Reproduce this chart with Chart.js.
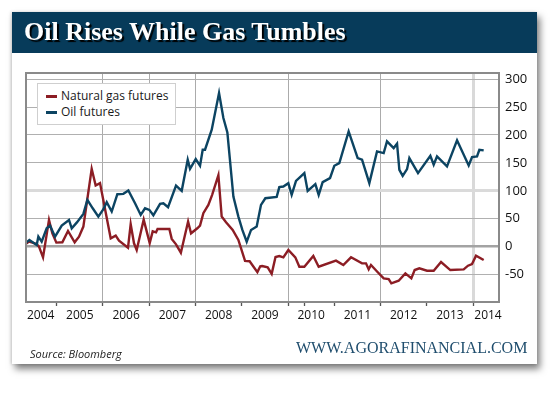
<!DOCTYPE html>
<html>
<head>
<meta charset="utf-8">
<script src="https://cdn.jsdelivr.net/npm/chart.js@4.4.1/dist/chart.umd.min.js"></script>
<style>
  html, body { margin: 0; padding: 0; background: #fff; }
  body { width: 554px; height: 395px; position: relative; overflow: hidden; }
  .card { position: absolute; left: 12px; top: 12px; width: 525px; height: 352px; background: #fff;
          box-shadow: 3px 5px 7px rgba(0,0,0,0.5), -1px 0 3px rgba(0,0,0,0.15); }
  .titlebar { position: absolute; left: 12px; top: 12px; width: 525px; height: 41px; background: #073b5a; }
  .title { position: absolute; left: 24px; top: 17px; margin: 0; white-space: nowrap;
           font: bold 26px/30px "Liberation Serif", serif; color: #fff; text-shadow: 2px 2px 1px #000; }
  #chart { position: absolute; left: 0; top: 0; }
  .legend { position: absolute; left: 37px; top: 83px; width: 137px; height: 40px;
            border: 1.5px solid #cfcfcf; background: #fff; }
  .legend .row { position: absolute; left: 0; height: 16px; width: 100%;
                 font: 12px/16px "Open Sans", sans-serif; color: #1a1a1a; white-space: nowrap; }
  .legend .sw { position: absolute; left: 8px; top: 7px; width: 11px; height: 3px; }
  .legend .txt { position: absolute; left: 23px; top: 0; }
  .source { position: absolute; left: 30px; top: 346px; font: italic 11px/15px "Open Sans", sans-serif; color: #222; }
  .site { position: absolute; left: 296px; top: 339px; font: 16px/18px "Liberation Serif", serif; color: #1f4d6d; white-space: nowrap; }
</style>
</head>
<body>
<div class="card"></div>
<div class="titlebar"></div>
<canvas id="chart" width="554" height="395"></canvas>
<h1 class="title">Oil Rises While Gas Tumbles</h1>
<div class="legend" id="legend"></div>
<div class="source">Source: Bloomberg</div>
<div class="site">WWW.AGORAFINANCIAL.COM</div>
<script>
// series names and colours
const seriesNames = ['Natural gas futures', 'Oil futures'];
const seriesColors = ['#8c1d24', '#0c4462'];

// natural gas futures (% change), x in decimal years
const gasYears = [2004.329, 2004.401, 2004.567, 2004.617, 2004.704, 2004.833, 2004.906, 2004.992, 2005.122, 2005.244,
  2005.388, 2005.482, 2005.576, 2005.756, 2005.842, 2005.936, 2006.167, 2006.275, 2006.347, 2006.541,
  2006.599, 2006.671, 2006.729, 2006.880, 2007.010, 2007.075, 2007.147, 2007.180, 2007.435, 2007.486,
  2007.579, 2007.684, 2007.840, 2007.904, 2008.040, 2008.098, 2008.170, 2008.278, 2008.360, 2008.495,
  2008.566, 2008.660, 2008.804, 2008.927, 2009.071, 2009.170, 2009.338, 2009.400, 2009.440, 2009.560,
  2009.647, 2009.730, 2009.812, 2009.899, 2010.007, 2010.158, 2010.245, 2010.353, 2010.547, 2010.663,
  2011.037, 2011.196, 2011.362, 2011.600, 2011.686, 2011.744, 2011.794, 2011.930, 2012.068, 2012.176,
  2012.234, 2012.392, 2012.537, 2012.666, 2012.738, 2012.839, 2013.005, 2013.149, 2013.308, 2013.509,
  2013.798, 2013.891, 2013.978, 2014.064, 2014.230];
const gasValues = [4.9, 9.1, 4.9, 0.1, -19.0, 48.0, 24.0, 7.3, 7.9, 28.2,
  7.9, 18.0, 36.0, 139.5, 109.6, 113.8, 15.0, 19.8, 10.9, -1.7,
  40.2, 6.1, -5.9, 48.5, 6.5, 27.5, 25.8, 31.8, 31.8, 14.0,
  4.2, -10.7, 45.0, 24.0, 33.0, 37.7, 60.0, 74.8, 92.8, 128.0,
  53.9, 43.7, 30.0, 12.0, -25.5, -26.0, -45.5, -35.0, -34.6, -37.0,
  -48.5, -18.5, -16.7, -19.0, -5.9, -19.0, -35.8, -35.8, -16.7, -35.8,
  -25.0, -32.8, -19.0, -29.8, -29.8, -40.6, -32.8, -44.8, -56.7, -57.9,
  -65.7, -60.9, -47.8, -56.7, -41.8, -38.8, -43.0, -43.0, -27.4, -41.8,
  -40.6, -34.0, -31.0, -16.1, -23.8];

// oil futures (% change)
const oilYears = [2004.337, 2004.409, 2004.567, 2004.603, 2004.675, 2004.783, 2004.856, 2004.964, 2005.108, 2005.266,
  2005.324, 2005.432, 2005.576, 2005.663, 2005.778, 2005.900, 2006.009, 2006.081, 2006.189, 2006.311,
  2006.441, 2006.549, 2006.693, 2006.816, 2006.909, 2007.003, 2007.089, 2007.234, 2007.306, 2007.407,
  2007.579, 2007.702, 2007.832, 2007.882, 2008.005, 2008.098, 2008.156, 2008.206, 2008.351, 2008.509,
  2008.603, 2008.689, 2008.819, 2008.927, 2009.013, 2009.107, 2009.201, 2009.323, 2009.416, 2009.510,
  2009.755, 2009.812, 2009.899, 2010.007, 2010.079, 2010.173, 2010.353, 2010.425, 2010.591, 2010.663,
  2010.749, 2010.908, 2011.001, 2011.109, 2011.311, 2011.506, 2011.600, 2011.758, 2011.924, 2012.068,
  2012.140, 2012.284, 2012.357, 2012.407, 2012.479, 2012.573, 2012.623, 2012.810, 2013.077, 2013.149,
  2013.221, 2013.437, 2013.654, 2013.906, 2013.978, 2014.086, 2014.136, 2014.230];
const oilValues = [7.2, 12.0, 3.0, 18.0, 9.0, 33.0, 37.7, 18.0, 37.7, 47.9,
  33.0, 43.1, 58.7, 83.8, 68.8, 53.9, 67.1, 79.6, 62.9, 94.0,
  94.6, 100.6, 77.8, 56.9, 68.8, 65.9, 56.3, 76.6, 77.8, 70.6,
  109.5, 100.0, 155.6, 139.5, 156.8, 144.9, 173.6, 173.6, 209.5, 275.3,
  230.4, 204.7, 89.8, 53.9, 30.0, 9.0, 30.0, 36.0, 74.9, 86.8,
  89.2, 106.6, 107.8, 113.8, 92.8, 118.0, 131.7, 100.0, 112.0, 92.8,
  115.6, 122.8, 144.9, 149.7, 206.5, 158.7, 155.7, 113.8, 170.6, 167.6,
  188.6, 176.6, 184.4, 137.7, 126.9, 138.9, 158.6, 131.7, 162.8, 146.7,
  161.6, 143.7, 190.4, 145.5, 160.4, 161.6, 173.6, 172.4];

// axes
const yearLabels = ['2004', '2005', '2006', '2007', '2008', '2009', '2010', '2011', '2012', '2013', '2014'];
const yearLabelAt = [2004.654, 2005.5, 2006.5, 2007.5, 2008.5, 2009.5, 2010.5, 2011.5, 2012.5, 2013.5, 2014.323];
const yearTickMarks = [2005, 2006, 2007, 2008, 2009, 2010, 2010.357, 2011, 2012, 2013, 2014];
const gridYears = [2006, 2007, 2008, 2010, 2012];
const yTicks = [-50, 0, 50, 100, 150, 200, 250, 300];

const NONE = 'rgba(0,0,0,0)';

// legend (html, built from the dataset names)
const legendEl = document.getElementById('legend');
seriesNames.forEach((name, i) => {
  const row = document.createElement('div');
  row.className = 'row';
  row.style.top = (4 + i * 15.7) + 'px';
  row.innerHTML = '<span class="sw" style="background:' + seriesColors[i] + '"></span><span class="txt">' + name + '</span>';
  legendEl.appendChild(row);
});

// grey frame round the plot
const framePlugin = {
  id: 'frame',
  afterDraw(chart) {
    const { ctx, chartArea: a } = chart;
    ctx.save();
    ctx.strokeStyle = '#8a8a8a';
    ctx.lineWidth = 2;
    ctx.strokeRect(a.left, a.top, a.right - a.left, a.bottom - a.top);
    ctx.restore();
  }
};

const toPoints = (xs, ys) => xs.map((x, i) => ({ x: x, y: ys[i] }));

new Chart(document.getElementById('chart'), {
  type: 'line',
  data: {
    datasets: [
      { label: seriesNames[1], data: toPoints(oilYears, oilValues), borderColor: seriesColors[1],
        borderWidth: 2.4, pointRadius: 0, tension: 0 },
      { label: seriesNames[0], data: toPoints(gasYears, gasValues), borderColor: seriesColors[0],
        borderWidth: 2.4, pointRadius: 0, tension: 0 }
    ]
  },
  options: {
    responsive: false,
    animation: false,
    layout: { padding: { left: 26, top: 73, right: 0, bottom: 63 } },
    plugins: { legend: { display: false }, tooltip: { enabled: false } },
    scales: {
      x: {
        type: 'linear',
        min: 2004.336,
        max: 2014.561,
        afterBuildTicks(scale) {
          // tick marks first/last (no label) so labels don't pad the chart area
          const marks = yearTickMarks.map(v => ({ value: v }));
          const labels = yearLabelAt.map(v => ({ value: v }));
          scale.ticks = [marks[0]].concat(labels, marks.slice(1));
        },
        afterFit(scale) { scale.height = 30; },
        ticks: {
          autoSkip: false,
          maxRotation: 0,
          padding: 2,
          color: '#111',
          font: { family: 'Open Sans', size: 12 },
          callback: (v) => {
            const i = yearLabelAt.indexOf(v);
            return i < 0 ? '' : yearLabels[i];
          }
        },
        grid: {
          color: (c) => {
            const v = c.tick && c.tick.value;
            if (v === 2014) return '#d9d9d9';
            return gridYears.includes(v) ? '#ababab' : NONE;
          },
          lineWidth: (c) => (c.tick && c.tick.value === 2014 ? 3 : 1),
          tickColor: (c) => (c.tick && yearTickMarks.includes(c.tick.value) ? '#555' : NONE),
          tickWidth: 1.3,
          tickLength: 4
        },
        border: { display: false }
      },
      y: {
        position: 'right',
        min: -99,
        max: 311,
        afterBuildTicks(scale) { scale.ticks = yTicks.map(v => ({ value: v })); },
        afterFit(scale) { scale.width = 55; },
        ticks: { padding: 6, color: '#111', font: { family: 'Open Sans', size: 13 } },
        grid: {
          drawTicks: false,
          color: (c) => {
            const v = c.tick && c.tick.value;
            if (v === 0) return '#a3a3a3';
            if (v === 100) return '#dadada';
            return '#b0b0b0';
          },
          lineWidth: (c) => {
            const v = c.tick && c.tick.value;
            if (v === 0) return 2.5;
            if (v === 100) return 3;
            return 1;
          }
        },
        border: { display: false }
      }
    }
  },
  plugins: [framePlugin]
});
</script>
</body>
</html>
